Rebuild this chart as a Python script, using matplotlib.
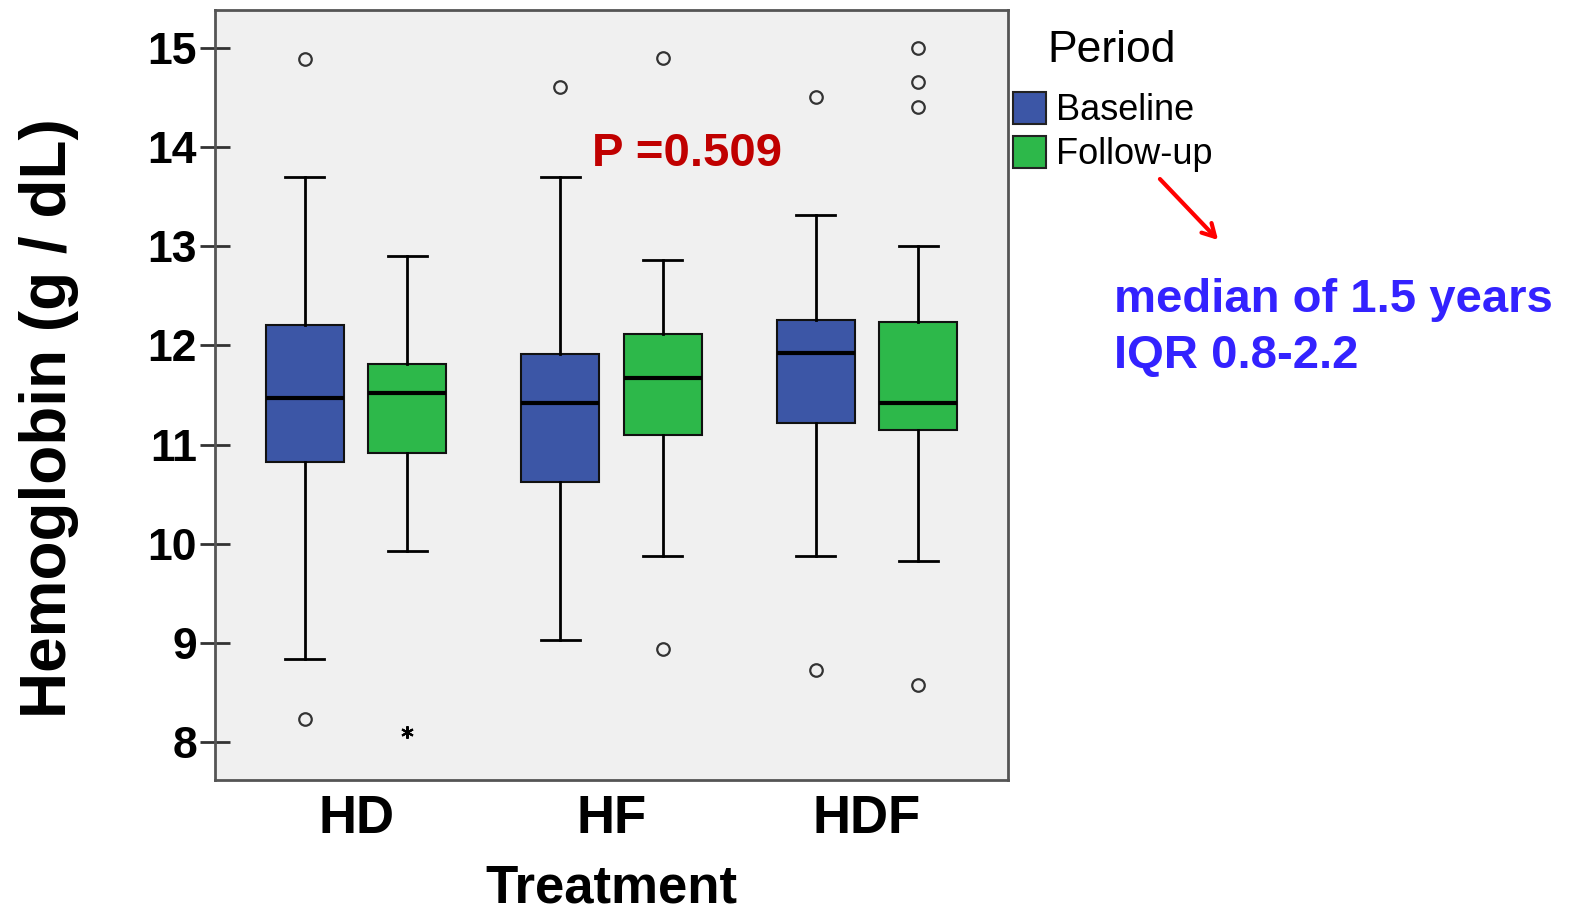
import matplotlib
matplotlib.use("Agg")
import matplotlib.pyplot as plt
from matplotlib.patches import Rectangle

plt.rcParams['font.family'] = ['Liberation Sans', 'DejaVu Sans']

# data (g/dL)
treatments = ["HD", "HF", "HDF"]
periods = ["Baseline", "Follow-up"]
colors = ["#3c56a6", "#2db84a"]

# [HD, HF, HDF] for each period
base_whislo = [8.84, 9.03, 9.88]
base_q1 = [10.82, 10.62, 11.22]
base_med = [11.47, 11.42, 11.92]
base_q3 = [12.21, 11.91, 12.26]
base_whishi = [13.70, 13.70, 13.31]
base_fliers = [[14.89, 8.23], [14.60], [14.50, 8.73]]

fu_whislo = [9.93, 9.88, 9.83]
fu_q1 = [10.92, 11.10, 11.15]
fu_med = [11.52, 11.67, 11.42]
fu_q3 = [11.81, 12.11, 12.24]
fu_whishi = [12.90, 12.86, 13.00]
fu_fliers = [[], [14.90, 8.94], [15.00, 14.65, 14.40, 8.58]]
fu_extremes = [[8.10], [], []]

fig = plt.figure(figsize=(15.77, 9.14), dpi=100)
ax = fig.add_axes([215/1577, 1-780/914, 793/1577, 770/914])
ax.set_facecolor("#f0f0f0")

offset = 0.2
width = 0.305
series = [
    (base_whislo, base_q1, base_med, base_q3, base_whishi, base_fliers, -offset),
    (fu_whislo, fu_q1, fu_med, fu_q3, fu_whishi, fu_fliers, offset),
]
for k, (lo, q1, med, q3, hi, fl, off) in enumerate(series):
    stats = []
    for i in range(len(treatments)):
        stats.append(dict(whislo=lo[i], q1=q1[i], med=med[i], q3=q3[i], whishi=hi[i], fliers=fl[i]))
    pos = [i + off for i in range(len(treatments))]
    ax.bxp(stats, positions=pos, widths=width, patch_artist=True, showfliers=True,
           boxprops=dict(facecolor=colors[k], edgecolor="#111111", linewidth=1.5),
           medianprops=dict(color="black", linewidth=3),
           whiskerprops=dict(color="black", linewidth=2),
           capprops=dict(color="black", linewidth=2),
           capwidths=width * 0.5,
           flierprops=dict(marker="o", markerfacecolor="none", markeredgecolor="#333333",
                           markersize=9, markeredgewidth=1.6))

for i, ex in enumerate(fu_extremes):
    for v in ex:
        ax.plot(i + offset, v, marker=(6, 2, 0), color="black", markersize=9, markeredgewidth=1.5)

ax.set_xlim(-0.552, 2.552)
ax.set_ylim(7.62, 15.38)
ax.set_yticks(range(8, 16))
ax.set_xticks(range(len(treatments)))
ax.set_xticklabels(treatments)
ax.tick_params(axis="y", direction="inout", length=22, width=2, labelsize=32, pad=2, color="#333333")
ax.tick_params(axis="x", length=0, labelsize=38, pad=10)
for lab in ax.get_yticklabels() + ax.get_xticklabels():
    lab.set_fontweight("bold")
for s in ax.spines.values():
    s.set_color("#555555")
    s.set_linewidth(2)

ax.set_xlabel("Treatment", fontsize=38, fontweight="bold", labelpad=14)
fig.text(49/1577, 1-418/914, "Hemoglobin (g / dL)", rotation=90, fontsize=46,
         fontweight="bold", ha="center", va="center")

ax.text(0.924, 13.93, "P =0.509", color="#c00000", fontsize=34, fontweight="bold", va="center")

# legend
fig.text(1047/1577, 1-50/914, "Period", fontsize=32, va="center", ha="left")
for k, name in enumerate(periods):
    y0 = 92 + k * 44
    fig.patches.append(Rectangle((1013/1577, 1-(y0+32)/914), 33/1577, 32/914,
                                 transform=fig.transFigure, facecolor=colors[k],
                                 edgecolor="#222222", linewidth=1.5))
    fig.text(1056/1577, 1-(y0+18)/914, name, fontsize=26, va="center", ha="left")

fig.text(1114/1577, 1-300/914, "median of 1.5 years", color="#3322ff", fontsize=34,
         fontweight="bold", va="center", ha="left")
fig.text(1114/1577, 1-356/914, "IQR 0.8-2.2", color="#3322ff", fontsize=34,
         fontweight="bold", va="center", ha="left")

ax.annotate("", xy=(1220/1577, 1-242/914), xytext=(1158/1577, 1-177/914),
            xycoords="figure fraction", textcoords="figure fraction",
            arrowprops=dict(arrowstyle="->,head_length=0.9,head_width=0.5", color="red", lw=3))

fig.savefig("out.png", dpi=100)
